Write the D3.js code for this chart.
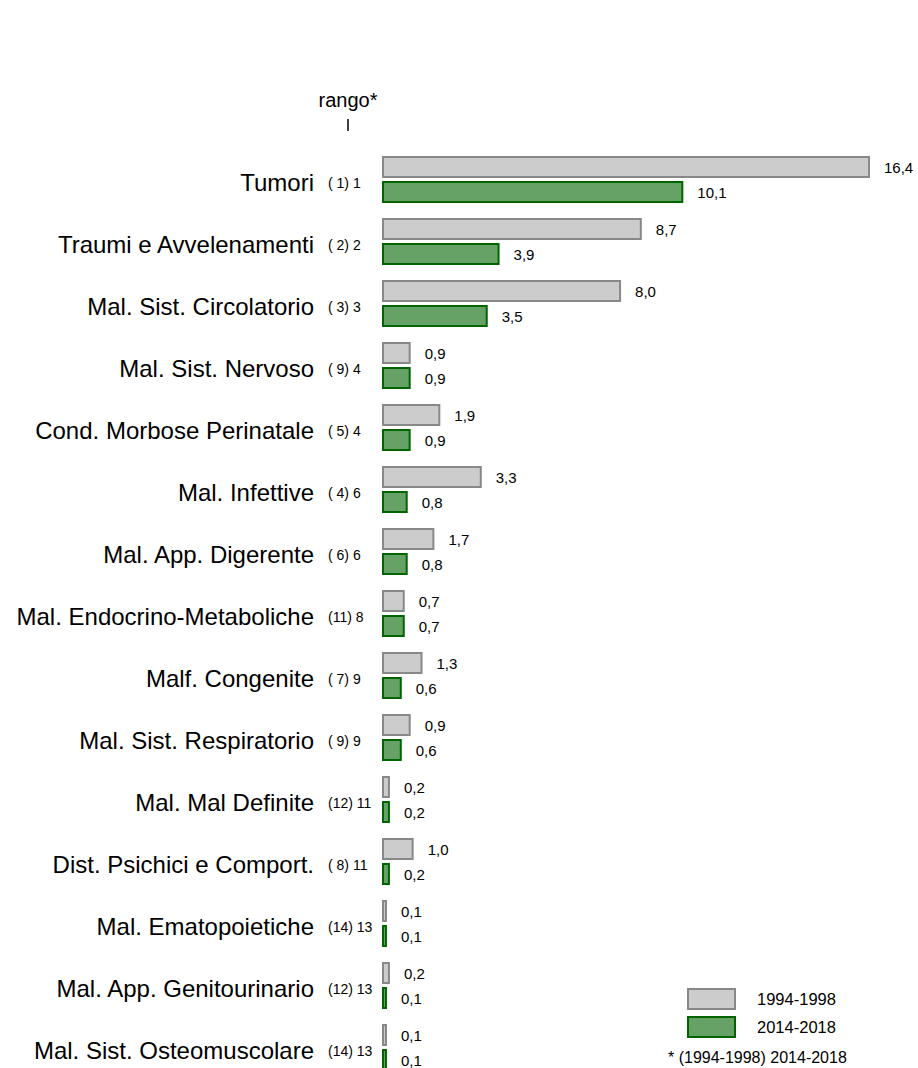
<!DOCTYPE html>
<meta charset="utf-8">
<style>
body { margin: 0; }
text { font-family: "Liberation Sans", Arial, sans-serif; fill: #000; }
.old { fill: #cccccc; stroke: #888888; stroke-width: 2px; }
.new { fill: #66a266; stroke: #006400; stroke-width: 2px; }
</style>
<body>
<script src="https://d3js.org/d3.v7.min.js"></script>
<script>

// categories, ranks and values (tassi)
var categories = ["Tumori", "Traumi e Avvelenamenti", "Mal. Sist. Circolatorio", "Mal. Sist. Nervoso",
  "Cond. Morbose Perinatale", "Mal. Infettive", "Mal. App. Digerente", "Mal. Endocrino-Metaboliche",
  "Malf. Congenite", "Mal. Sist. Respiratorio", "Mal. Mal Definite", "Dist. Psichici e Comport.",
  "Mal. Ematopoietiche", "Mal. App. Genitourinario", "Mal. Sist. Osteomuscolare"];
var rankOld = [1, 2, 3, 9, 5, 4, 6, 11, 7, 9, 12, 8, 14, 12, 14];
var rankNew = [1, 2, 3, 4, 4, 6, 6, 8, 9, 9, 11, 11, 13, 13, 13];
var values1994 = [16.4, 8.7, 8.0, 0.9, 1.9, 3.3, 1.7, 0.7, 1.3, 0.9, 0.2, 1.0, 0.1, 0.2, 0.1];
var values2014 = [10.1, 3.9, 3.5, 0.9, 0.9, 0.8, 0.8, 0.7, 0.6, 0.6, 0.2, 0.2, 0.1, 0.1, 0.1];
var seriesNames = ["1994-1998", "2014-2018"];

var width = 918, height = 1068;

var svg = d3.select("body").append("svg")
    .attr("width", width)
    .attr("height", height);

var x = d3.scaleLinear()
    .domain([0, 16.4])
    .range([383, 869]);

var y = d3.scaleBand()
    .domain(categories)
    .range([150, 150 + 62 * categories.length]);

var fmt = function(v) { return d3.format(".1f")(v).replace(".", ","); };

var data = categories.map(function(c, i) {
  return {cat: c, ro: rankOld[i], rn: rankNew[i], a: values1994[i], b: values2014[i]};
});

// header
svg.append("text")
    .attr("x", 348).attr("y", 107)
    .attr("text-anchor", "middle")
    .style("font-size", "20px")
    .text("rango*");
svg.append("line")
    .attr("x1", 348).attr("x2", 348)
    .attr("y1", 119).attr("y2", 131)
    .attr("stroke", "#000").attr("stroke-width", 1.5);

var g = svg.selectAll(".grp")
    .data(data)
  .enter().append("g")
    .attr("class", "grp")
    .attr("transform", function(d) { return "translate(0," + y(d.cat) + ")"; });

g.append("text")
    .attr("x", 314).attr("y", 41)
    .attr("text-anchor", "end")
    .style("font-size", "24px")
    .text(function(d) { return d.cat; });

g.append("text")
    .attr("x", 328).attr("y", 38)
    .style("font-size", "14px")
    .text(function(d) { return "(" + (d.ro < 10 ? " " : "") + d.ro + ") " + d.rn; });

g.append("rect")
    .attr("class", "old")
    .attr("x", x(0))
    .attr("y", 7)
    .attr("width", function(d) { return x(d.a) - x(0); })
    .attr("height", 20);

g.append("rect")
    .attr("class", "new")
    .attr("x", x(0))
    .attr("y", 32)
    .attr("width", function(d) { return x(d.b) - x(0); })
    .attr("height", 20);

g.append("text")
    .attr("x", function(d) { return x(d.a) + 15; })
    .attr("y", 23)
    .style("font-size", "15px")
    .text(function(d) { return fmt(d.a); });

g.append("text")
    .attr("x", function(d) { return x(d.b) + 15; })
    .attr("y", 48)
    .style("font-size", "15px")
    .text(function(d) { return fmt(d.b); });

// legend
var leg = svg.append("g");
seriesNames.forEach(function(s, i) {
  leg.append("rect")
      .attr("class", i === 0 ? "old" : "new")
      .attr("x", 688).attr("y", 989 + i * 28)
      .attr("width", 47).attr("height", 20);
  leg.append("text")
      .attr("x", 757).attr("y", 1005 + i * 28)
      .style("font-size", "16.5px")
      .text(s);
});
leg.append("text")
    .attr("x", 668).attr("y", 1063)
    .style("font-size", "16px")
    .text("* (1994-1998) 2014-2018");

</script>
</body>
